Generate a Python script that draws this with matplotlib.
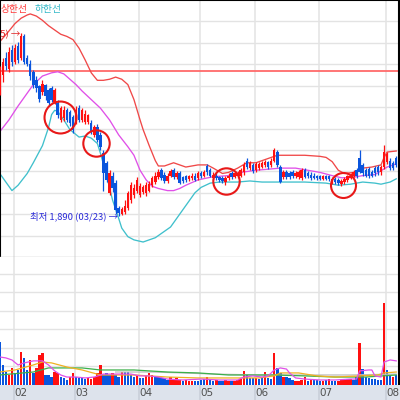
import matplotlib
matplotlib.use("Agg")
import matplotlib.pyplot as plt
import numpy as np

plt.rcParams['font.family'] = ['Noto Sans CJK KR', 'DejaVu Sans']

# daily candles (won), index 0 = last days of January
opens = [2490, 2550, 2630, 2580, 2665, 2610, 2685, 2630, 2730, 2630,
         2600, 2565, 2525, 2500, 2470, 2505, 2480, 2490, 2425, 2420,
         2340, 2350, 2385, 2375, 2355, 2330, 2395, 2340, 2330, 2330,
         2325, 2270, 2305, 2270, 2185, 2140, 2000, 2080, 2045, 1930,
         1900, 1910, 1930, 1965, 1990, 2010, 1990, 2005, 2000, 2010,
         2035, 2050, 2075, 2105, 2085, 2055, 2080, 2105, 2075, 2090,
         2075, 2080, 2065, 2070, 2080, 2070, 2090, 2080, 2125, 2105,
         2070, 2080, 2075, 2070, 2050, 2070, 2090, 2075, 2080, 2080,
         2095, 2150, 2115, 2130, 2105, 2115, 2120, 2130, 2145, 2130,
         2150, 2190, 2120, 2075, 2095, 2090, 2095, 2080, 2075, 2070,
         2105, 2090, 2085, 2080, 2080, 2080, 2065, 2080, 2080, 2050,
         2065, 2060, 2040, 2050, 2060, 2070, 2080, 2105, 2160, 2130,
         2105, 2110, 2095, 2115, 2120, 2095, 2120, 2145, 2150, 2140,
         2160]
highs = [2590, 2630, 2655, 2680, 2690, 2695, 2705, 2745, 2740, 2645,
         2620, 2575, 2545, 2505, 2525, 2510, 2490, 2500, 2490, 2435,
         2405, 2405, 2395, 2385, 2365, 2405, 2410, 2395, 2385, 2370,
         2340, 2315, 2320, 2285, 2200, 2150, 2105, 2095, 2060, 1940,
         1935, 1965, 2010, 2050, 2040, 2075, 2045, 2035, 2050, 2055,
         2080, 2095, 2110, 2115, 2095, 2090, 2110, 2115, 2100, 2100,
         2080, 2085, 2085, 2090, 2090, 2100, 2100, 2105, 2135, 2115,
         2095, 2090, 2080, 2080, 2080, 2090, 2100, 2100, 2100, 2115,
         2145, 2160, 2150, 2140, 2145, 2145, 2150, 2155, 2150, 2160,
         2210, 2200, 2130, 2105, 2105, 2100, 2105, 2100, 2105, 2115,
         2115, 2100, 2095, 2090, 2085, 2085, 2085, 2085, 2085, 2075,
         2075, 2070, 2065, 2075, 2085, 2090, 2105, 2115, 2200, 2140,
         2115, 2120, 2105, 2125, 2130, 2130, 2225, 2190, 2160, 2150,
         2170]
lows = [2455, 2515, 2575, 2565, 2590, 2600, 2605, 2620, 2600, 2590,
        2525, 2490, 2470, 2425, 2455, 2435, 2405, 2425, 2415, 2350,
        2330, 2335, 2330, 2310, 2280, 2320, 2330, 2330, 2320, 2320,
        2275, 2260, 2235, 2200, 2010, 2050, 1990, 2005, 1900, 1890,
        1895, 1900, 1920, 1950, 1975, 2000, 1980, 1995, 1985, 2005,
        2025, 2040, 2065, 2060, 2045, 2045, 2075, 2065, 2065, 2040,
        2045, 2050, 2055, 2060, 2055, 2060, 2070, 2075, 2085, 2075,
        2060, 2060, 2050, 2045, 2035, 2060, 2065, 2070, 2070, 2075,
        2085, 2110, 2105, 2090, 2095, 2105, 2115, 2120, 2110, 2120,
        2145, 2120, 2045, 2065, 2065, 2065, 2070, 2070, 2065, 2060,
        2070, 2070, 2060, 2065, 2060, 2060, 2060, 2060, 2055, 2040,
        2040, 2035, 2030, 2040, 2050, 2065, 2075, 2070, 2090, 2080,
        2075, 2070, 2075, 2080, 2085, 2085, 2110, 2135, 2105, 2105,
        2120]
closes = [2565, 2610, 2590, 2655, 2610, 2675, 2620, 2730, 2610, 2600,
          2545, 2505, 2490, 2440, 2510, 2450, 2420, 2435, 2480, 2365,
          2395, 2385, 2340, 2325, 2295, 2385, 2340, 2385, 2370, 2365,
          2285, 2305, 2245, 2215, 2090, 2060, 2090, 2020, 1920, 1905,
          1925, 1940, 2000, 2035, 2020, 2060, 2030, 2025, 2035, 2040,
          2070, 2080, 2095, 2070, 2055, 2080, 2100, 2075, 2090, 2045,
          2055, 2060, 2080, 2080, 2060, 2090, 2080, 2095, 2095, 2080,
          2085, 2070, 2060, 2055, 2070, 2080, 2075, 2090, 2090, 2105,
          2130, 2120, 2140, 2100, 2135, 2135, 2140, 2145, 2120, 2150,
          2200, 2130, 2050, 2095, 2075, 2075, 2080, 2090, 2095, 2105,
          2075, 2080, 2070, 2070, 2070, 2065, 2080, 2065, 2065, 2065,
          2050, 2045, 2055, 2065, 2080, 2080, 2095, 2080, 2095, 2090,
          2080, 2080, 2080, 2090, 2095, 2120, 2190, 2180, 2115, 2115,
          2130]

# Bollinger band readings (index, won)
upper_idx = [0, 3, 5, 7, 9, 10, 12, 14, 16, 18, 20, 22, 24, 26, 28, 30, 32, 34,
             36, 38, 40, 42, 44, 46, 47, 49, 51, 52, 54, 57, 61, 65, 68, 70, 73,
             75, 78, 81, 84, 88, 91, 95, 100, 105, 107, 109, 111, 113, 116, 119,
             122, 125, 126, 127, 130]
upper_val = [2705, 2755, 2790, 2815, 2830, 2835, 2825, 2805, 2780, 2760, 2740,
             2730, 2715, 2675, 2620, 2560, 2525, 2525, 2530, 2540, 2530, 2505,
             2435, 2340, 2295, 2220, 2150, 2125, 2125, 2140, 2120, 2130, 2130,
             2115, 2090, 2095, 2115, 2140, 2140, 2160, 2175, 2175, 2175, 2170,
             2165, 2145, 2105, 2090, 2095, 2115, 2120, 2130, 2165, 2190, 2195]
mid_idx = [0, 3, 6, 9, 11, 14, 17, 19, 21, 23, 25, 27, 30, 33, 36, 39, 42, 44,
           46, 48, 50, 52, 55, 57, 59, 61, 65, 70, 75, 79, 84, 92, 97, 101, 105,
           109, 112, 115, 119, 123, 127, 130]
mid_val = [2285, 2340, 2405, 2465, 2505, 2545, 2560, 2565, 2555, 2530, 2505,
           2475, 2435, 2395, 2340, 2270, 2215, 2175, 2105, 2060, 2030, 2020,
           2010, 2010, 2020, 2035, 2060, 2075, 2080, 2095, 2105, 2115, 2115,
           2105, 2095, 2080, 2070, 2070, 2080, 2085, 2120, 2135]
lower_idx = [0, 2, 4, 6, 9, 11, 14, 16, 17, 18, 19, 21, 23, 26, 28, 30, 32, 33,
             35, 37, 39, 40, 42, 44, 47, 51, 56, 60, 64, 66, 69, 72, 78, 82, 86,
             90, 96, 100, 107, 111, 115, 119, 123, 125, 128, 130]
lower_val = [2090, 2050, 2010, 2035, 2090, 2140, 2220, 2305, 2365, 2385, 2380,
             2340, 2295, 2260, 2265, 2255, 2230, 2185, 2080, 1965, 1880, 1835,
             1795, 1780, 1770, 1790, 1840, 1920, 2000, 2025, 2045, 2050, 2050,
             2055, 2050, 2050, 2050, 2050, 2045, 2035, 2040, 2050, 2045, 2040,
             2050, 2065]

limit_price = 2570

# circled spots (index, won)
circle_idx = [19.7, 31.6, 74.2, 112.6]
circle_price = [2353, 2232, 2054, 2035]
circle_size = [23, 19, 19, 18]

# volume (thousand shares) and bar colour (r = up, b = down)
volume = [2320, 1080, 700, 540, 920, 650, 810, 1780, 1460, 810,
          1350, 650, 920, 1620, 1730, 540, 540, 430, 700, 650,
          430, 380, 270, 430, 650, 430, 380, 380, 320, 380,
          320, 430, 650, 1080, 540, 650, 540, 650, 540, 430,
          700, 700, 700, 540, 430, 540, 380, 380, 540, 650,
          540, 430, 430, 380, 380, 270, 430, 270, 380, 270,
          220, 270, 220, 220, 220, 220, 270, 320, 430, 270,
          220, 270, 220, 220, 270, 220, 220, 220, 270, 320,
          760, 540, 380, 380, 380, 320, 380, 700, 380, 320,
          1730, 920, 650, 430, 430, 380, 270, 220, 220, 270,
          430, 220, 320, 270, 270, 220, 220, 270, 320, 220,
          220, 220, 270, 270, 320, 320, 270, 430, 2270, 860,
          430, 380, 320, 320, 270, 270, 4430, 810, 540, 430,
          540]
vol_dir = list("bbbrrbbrbb" "rbrrrbbbrr" "bbbrrbbbbr" "rrrrbbbrbb"
               "rbbbbrbbrr" "rbbbbbrrrr" "brrrbbbbrb" "brbbrrbrrr"
               "rbbbrbbrbb" "rbbrbbbrrr" "rbrbbbrbrb" "brrrrrbbrb"
               "bbbbbbrbbr" "b")

# volume moving averages (index, thousand shares)
vma5_idx = [0, 2, 4, 6, 8, 11, 14, 16, 18, 20, 22, 25, 28, 31, 34, 37, 40, 43,
            46, 49, 52, 55, 60, 66, 72, 78, 80, 83, 86, 88, 90, 92, 94, 95, 97,
            100, 105, 110, 115, 117, 118, 121, 122, 123, 125, 126, 128, 130]
vma5_val = [1510, 1460, 1350, 1080, 1190, 1300, 1300, 1080, 760, 540, 430, 430,
            380, 430, 590, 590, 590, 590, 490, 490, 430, 320, 270, 320, 270,
            270, 430, 490, 430, 490, 810, 920, 860, 650, 380, 320, 270, 270,
            320, 320, 760, 810, 810, 490, 430, 1240, 1350, 1300]
vma20_idx = [0, 5, 11, 14, 17, 22, 27, 33, 44, 55, 65, 85, 90, 92, 98, 104,
             110, 118, 124, 126, 130]
vma20_val = [700, 810, 1080, 1240, 1190, 970, 810, 540, 540, 430, 380, 380,
             490, 650, 650, 490, 430, 490, 540, 650, 700]
vma60_idx = [0, 11, 16, 27, 33, 44, 55, 65, 75, 90, 100, 110, 120, 130]
vma60_val = [540, 700, 920, 920, 810, 810, 700, 650, 540, 540, 490, 430, 430, 540]
vma120_idx = [38, 50, 60, 70, 85, 100, 115, 130]
vma120_val = [700, 700, 650, 590, 540, 540, 540, 590]

month_start = [5, 25, 46, 66, 84, 105, 127]
month_label = ["02", "03", "04", "05", "06", "07", "08"]

RED = "#ff1010"
BLUE = "#0a55dd"
GRID = "#e3e3e3"
X_LEFT, X_RIGHT = 0.08, 130.9


def main() -> None:
    fig = plt.figure(figsize=(4, 4), dpi=100)
    ax = fig.add_axes([0, 143 / 400, 399 / 400, 257 / 400])
    axv = fig.add_axes([0, 15 / 400, 399 / 400, 128 / 400])
    axb = fig.add_axes([0, 0, 1, 15 / 400])

    idx = np.arange(len(closes))
    o = np.array(opens)
    c = np.array(closes)
    up = c >= o
    cols = np.where(up, RED, BLUE)

    # --- price panel ---
    for p in range(1800, 2900, 100):
        ax.axhline(p, color=GRID, lw=1.0, zorder=0)
    for m in month_start:
        ax.axvline(m - 0.4, color=GRID, lw=1.1, zorder=0)
        axv.axvline(m - 0.4, color=GRID, lw=1.1, zorder=0)
        axb.axvline(m - 0.4, color="#c8ced8", lw=1.1, zorder=0)

    ax.axhline(limit_price, color="#ff6a6a", lw=1.3, zorder=1)
    ax.plot(upper_idx, upper_val, color="#f04848", lw=0.95, zorder=2)
    ax.plot(mid_idx, mid_val, color="#e050e8", lw=0.95, zorder=2)
    ax.plot(lower_idx, lower_val, color="#40c0cc", lw=0.95, zorder=2)

    ax.vlines(idx, lows, highs, colors=cols, lw=0.9, zorder=3)
    body = np.maximum(np.abs(c - o), 5)
    ax.bar(idx, body, bottom=np.minimum(o, c), width=0.8, color=cols,
           linewidth=0, zorder=4)

    for ci, cp, cs in zip(circle_idx, circle_price, circle_size):
        ax.plot(ci, cp, "o", ms=cs, mfc="none", mec="#e81818", mew=1.5, zorder=5)

    lo = int(np.argmin(lows))
    hi = int(np.argmax(highs))
    ax.text(lo - 0.2, lows[lo], f"최저 {lows[lo]:,} (03/23) →", color="#2a2ad8",
            fontsize=6.8, ha="right", va="center", zorder=6)
    ax.text(hi - 0.2, highs[hi], f"최고 {highs[hi]:,} (02/05) →", color="#e02020",
            fontsize=6.8, ha="right", va="center", zorder=6)

    ax.set_xlim(X_LEFT, X_RIGHT)
    ax.set_ylim(1700, 2900)
    ax.set_xticks([])
    ax.set_yticks([])
    for side in ("top", "left", "right"):
        ax.spines[side].set_color("black")
        ax.spines[side].set_linewidth(1.5)
    ax.spines["bottom"].set_color("#bdbdbd")
    ax.spines["bottom"].set_linewidth(1.0)

    fig.text(1 / 400, 1 - 9 / 400, "상한선", color="#ff3a3a", fontsize=7,
             va="center", ha="left")
    fig.text(35 / 400, 1 - 9 / 400, "하한선", color="#30b8c8", fontsize=7,
             va="center", ha="left")

    # --- volume panel ---
    for v in range(1000, 7000, 1000):
        axv.axhline(v, color=GRID, lw=1.0, zorder=0)
    vcols = [RED if d == "r" else BLUE for d in vol_dir]
    axv.bar(idx, volume, width=0.8, color=vcols, linewidth=0, zorder=3)
    axv.plot(vma120_idx, vma120_val, color="#bdbdbd", lw=0.9, zorder=4)
    axv.plot(vma60_idx, vma60_val, color="#3cb04a", lw=0.9, zorder=4)
    axv.plot(vma20_idx, vma20_val, color="#f0b020", lw=0.9, zorder=4)
    axv.plot(vma5_idx, vma5_val, color="#e050e8", lw=0.9, zorder=4)
    axv.set_xlim(X_LEFT, X_RIGHT)
    axv.set_ylim(0, 6900)
    axv.set_xticks([])
    axv.set_yticks([])
    for side in ("top", "left", "bottom"):
        axv.spines[side].set_visible(False)
    axv.spines["right"].set_color("black")
    axv.spines["right"].set_linewidth(1.5)

    # --- date strip ---
    axb.set_facecolor("#dde3ec")
    axb.set_xlim(X_LEFT, X_LEFT + (X_RIGHT - X_LEFT) * 400 / 399)
    axb.set_ylim(0, 1)
    for m, lab in zip(month_start, month_label):
        axb.text(m - 0.2, 0.45, lab, color="#505050", fontsize=7.5,
                 family="DejaVu Sans", ha="left", va="center")
    axb.set_xticks([])
    axb.set_yticks([])
    for s in axb.spines.values():
        s.set_visible(False)

    fig.savefig("out.png", dpi=100)


if __name__ == "__main__":
    main()
